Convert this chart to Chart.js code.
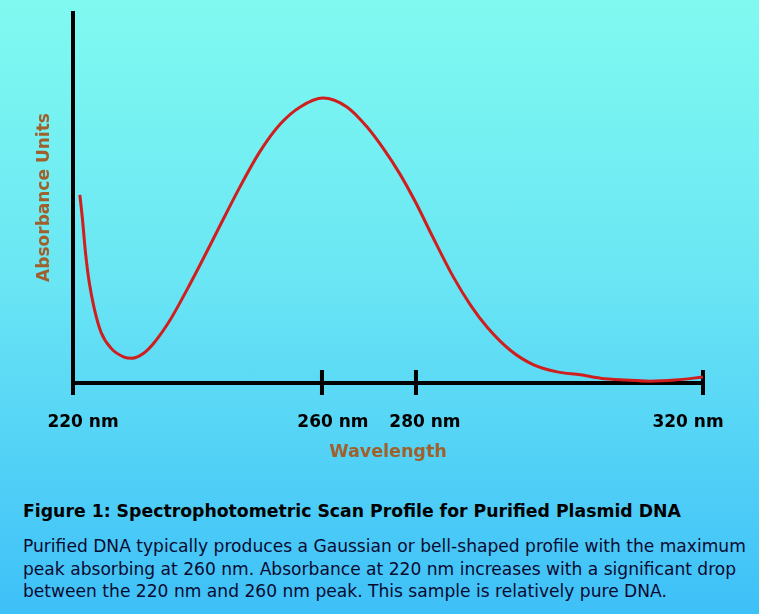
<!DOCTYPE html>
<html>
<head>
<meta charset="utf-8">
<script src="https://cdn.jsdelivr.net/npm/chart.js@4/dist/chart.umd.min.js"></script>
<style>
  html, body { margin: 0; padding: 0; }
  body {
    width: 759px; height: 614px; overflow: hidden; position: relative;
    background: linear-gradient(to bottom, #80faf0 0%, #6ae6f4 45%, #3ec0f8 100%);
    font-family: "DejaVu Sans", sans-serif;
  }
  #wrap { position: absolute; left: 0; top: 0; width: 759px; height: 480px; }
  .cap-title { position: absolute; left: 23px; top: 501px; font-weight: bold; font-size: 17.3px; color: #000; white-space: nowrap; }
  .cap-text { position: absolute; left: 23px; top: 535px; font-size: 17.1px; line-height: 22.5px; color: #0a0a30; white-space: nowrap; }
</style>
</head>
<body>
<div id="wrap"><canvas id="chart" width="759" height="480"></canvas></div>
<div class="cap-title">Figure 1: Spectrophotometric Scan Profile for Purified Plasmid DNA</div>
<div class="cap-text">Purified DNA typically produces a Gaussian or bell-shaped profile with the maximum<br>peak absorbing at 260 nm. Absorbance at 220 nm increases with a significant drop<br>between the 220 nm and 260 nm peak. This sample is relatively pure DNA.</div>
<script>
// data
const wavelengths = [221.1, 221.5, 222.0, 222.6, 223.4, 224.5, 226.1, 228.2, 229.5, 231.4,
    233.0, 235.6, 238.3, 240.4, 243.1, 246.8, 250.0, 253.3, 256.5, 260.2,
    265.3, 269.6, 273.0, 276.6, 280.0, 282.2, 285.2, 287.6, 289.9, 293.1,
    296.4, 299.7, 302.9, 305.7, 309.2, 312.6, 316.1, 320.0];
const absorbance = [0.507, 0.445, 0.353, 0.272, 0.202, 0.137, 0.094, 0.070, 0.067, 0.081,
    0.108, 0.170, 0.251, 0.318, 0.407, 0.528, 0.623, 0.698, 0.744, 0.768,
    0.744, 0.690, 0.633, 0.563, 0.485, 0.399, 0.286, 0.210, 0.151, 0.089,
    0.049, 0.030, 0.022, 0.013, 0.008, 0.005, 0.008, 0.016];
const tickWavelengths = [220, 260, 280, 320];
const tickLabels = ['220 nm', '260 nm', '280 nm', '320 nm'];

// the drawn axis is not evenly spaced: where each tick sits along it (0..1)
const tickFractions = [0, 0.3952, 0.5444, 1];
// labels are nudged off their ticks in the original
const labelNudge = [10, 11, 9, -15];

function toFraction(v) {
    for (let i = 1; i < tickWavelengths.length; i++) {
        if (v <= tickWavelengths[i] || i === tickWavelengths.length - 1) {
            const a = tickWavelengths[i - 1], b = tickWavelengths[i];
            return tickFractions[i - 1] + (v - a) / (b - a) * (tickFractions[i] - tickFractions[i - 1]);
        }
    }
}
function fromFraction(f) {
    for (let i = 1; i < tickFractions.length; i++) {
        if (f <= tickFractions[i] || i === tickFractions.length - 1) {
            const a = tickFractions[i - 1], b = tickFractions[i];
            return tickWavelengths[i - 1] + (f - a) / (b - a) * (tickWavelengths[i] - tickWavelengths[i - 1]);
        }
    }
}

class PiecewiseScale extends Chart.LinearScale {
    getPixelForValue(value) {
        return this.getPixelForDecimal(toFraction(value));
    }
    getValueForPixel(pixel) {
        return fromFraction(this.getDecimalForPixel(pixel));
    }
}
PiecewiseScale.id = 'piecewise';
PiecewiseScale.defaults = Chart.LinearScale.defaults;
Chart.register(PiecewiseScale);

const brown = '#a0602c';

// thick black axes, tick marks crossing the x axis, and the tick labels
const axesPlugin = {
    id: 'axesLines',
    beforeDatasetsDraw(chart) {
        const { ctx, scales: { x, y } } = chart;
        const x0 = x.getPixelForValue(tickWavelengths[0]);
        const x1 = x.getPixelForValue(tickWavelengths[tickWavelengths.length - 1]);
        const y0 = y.getPixelForValue(0);
        const yTop = y.getPixelForValue(y.max);
        ctx.save();
        ctx.strokeStyle = '#000';
        ctx.lineWidth = 4;
        ctx.beginPath();
        ctx.moveTo(x0, yTop - 1);
        ctx.lineTo(x0, y0 + 12);
        ctx.moveTo(x0, y0);
        ctx.lineTo(x1, y0);
        tickWavelengths.slice(1).forEach(function (t) {
            const px = x.getPixelForValue(t);
            ctx.moveTo(px, y0 - 13);
            ctx.lineTo(px, y0 + 12);
        });
        ctx.stroke();

        ctx.fillStyle = '#000';
        ctx.font = 'bold 17px "DejaVu Sans"';
        ctx.textAlign = 'center';
        ctx.textBaseline = 'middle';
        x.ticks.forEach(function (t, i) {
            ctx.fillText(tickLabels[i], x.getPixelForValue(t.value) + labelNudge[i], y0 + 40);
        });
        ctx.restore();
    }
};

const points = wavelengths.map((w, i) => ({ x: w, y: absorbance[i] }));

new Chart(document.getElementById('chart'), {
    type: 'line',
    data: {
        datasets: [{
            data: points,
            borderColor: '#d01e1e',
            borderWidth: 3,
            pointRadius: 0,
            cubicInterpolationMode: 'monotone',
            fill: false
        }]
    },
    options: {
        responsive: false,
        animation: false,
        devicePixelRatio: 1,
        layout: { padding: { left: 0, right: 56, top: 12, bottom: 0 } },
        plugins: { legend: { display: false }, tooltip: { enabled: false } },
        scales: {
            x: {
                type: 'piecewise',
                position: 'bottom',
                min: 220,
                max: 320,
                afterBuildTicks: function (scale) {
                    scale.ticks = tickWavelengths.map(v => ({ value: v }));
                },
                afterFit: function (scale) {
                    scale.height = 97;
                    scale.paddingLeft = 0;
                    scale.paddingRight = 0;
                },
                grid: { display: false, drawTicks: false },
                border: { display: false },
                ticks: { display: false },
                title: {
                    display: true,
                    text: 'Wavelength',
                    color: brown,
                    font: { family: 'DejaVu Sans', weight: 'bold', size: 17.5 },
                    padding: { top: 0, bottom: 17 }
                }
            },
            y: {
                min: 0,
                max: 1,
                afterFit: function (scale) { scale.width = 73; },
                grid: { display: false, drawTicks: false },
                border: { display: false },
                ticks: { display: false },
                title: {
                    display: true,
                    text: 'Absorbance Units',
                    color: brown,
                    font: { family: 'DejaVu Sans', weight: 'bold', size: 17 },
                    padding: { top: 34, bottom: 0 }
                }
            }
        }
    },
    plugins: [axesPlugin]
});
</script>
</body>
</html>
